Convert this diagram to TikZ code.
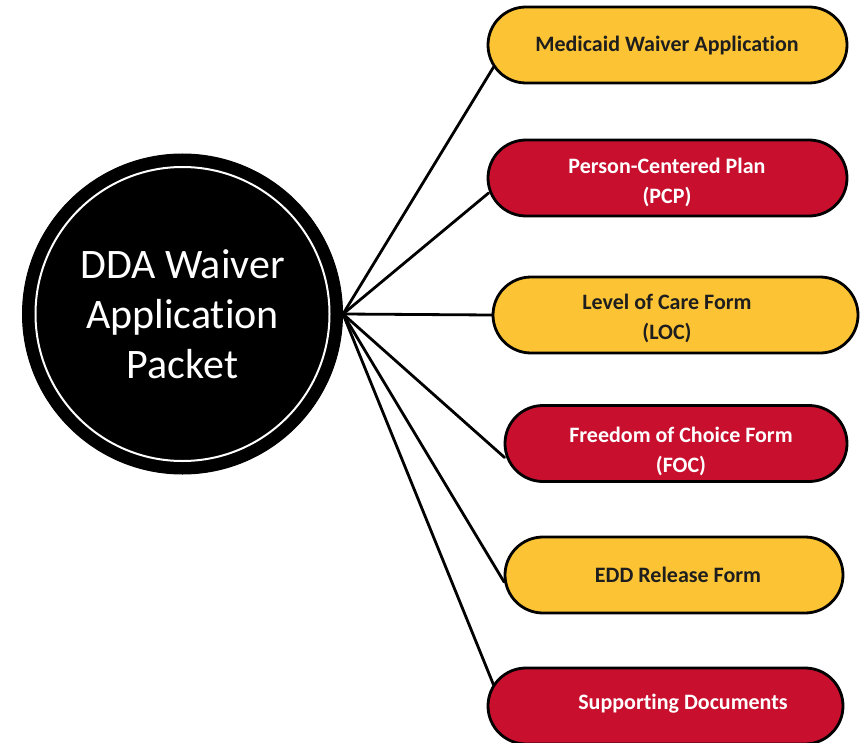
\documentclass[tikz,border=0pt]{standalone}
\usepackage{fontspec}
\setmainfont{Carlito}[Ligatures={NoCommon}]
\usetikzlibrary{shapes.misc,calc}
\definecolor{pillgold}{RGB}{252,196,52}
\definecolor{pillred}{RGB}{200,16,46}
\definecolor{inkdark}{RGB}{30,30,30}
\begin{document}
\begin{tikzpicture}[x=1pt,y=-1pt,
  pill/.style={rounded rectangle, draw=black, line width=2.8pt,
    minimum height=76pt, inner sep=0pt},
  goldpill/.style={pill, fill=pillgold},
  redpill/.style={pill, fill=pillred},
  caption/.style={font=\bfseries\fontsize{22}{30}\selectfont, align=center},
  darkcap/.style={caption, text=inkdark},
  lightcap/.style={caption, text=white},
  link/.style={line width=2.8pt, line cap=round}]
\useasboundingbox (0,0) rectangle (866,743);

% central hub
\node[circle, fill=black, draw=black, line width=1pt, minimum size=320pt,
  inner sep=0pt, text=white, align=center,
  font=\fontsize{42}{50}\selectfont] (hub) at (182.5,314)
  {DDA Waiver\\Application\\Packet};
\draw[white, line width=2pt] (hub.center) circle[radius=147];

% document pills
\node[goldpill, minimum width=359pt] (p1) at (667.5,45) {};
\node[redpill,  minimum width=359pt] (p2) at (667.5,178) {};
\node[goldpill, minimum width=365pt] (p3) at (675.5,315) {};
\node[redpill,  minimum width=342pt] (p4) at (676,443.5) {};
\node[goldpill, minimum width=338pt] (p5) at (674,575) {};
\node[redpill,  minimum width=355pt] (p6) at (665.5,706) {};

% pill captions
\node[darkcap]  (t1) at (667,46)  {Medicaid Waiver Application};
\node[lightcap] (t2) at (667,182) {Person-Centered Plan\\(PCP)};
\node[darkcap]  (t3) at (667,318) {Level of Care Form\\(LOC)};
\node[lightcap] (t4) at (681,451) {Freedom of Choice Form\\(FOC)};
\node[darkcap]  (t5) at (678,575) {EDD Release Form};
\node[lightcap] (t6) at (683,704) {Supporting Documents};

% connectors fanning out from the hub
\draw[link] (hub.east) -- ($(p1.west)+(7,22)$);
\draw[link] (hub.east) -- ($(p2.west)+(2,15)$);
\draw[link] (hub.east) -- (p3.west);
\draw[link] (hub.east) -- ($(p4.west)+(1,14)$);
\draw[link] (hub.east) -- ($(p5.west)+(0.5,7)$);
\draw[link] (hub.east) -- ($(p6.west)+(7,-21)$);
\end{tikzpicture}
\end{document}
